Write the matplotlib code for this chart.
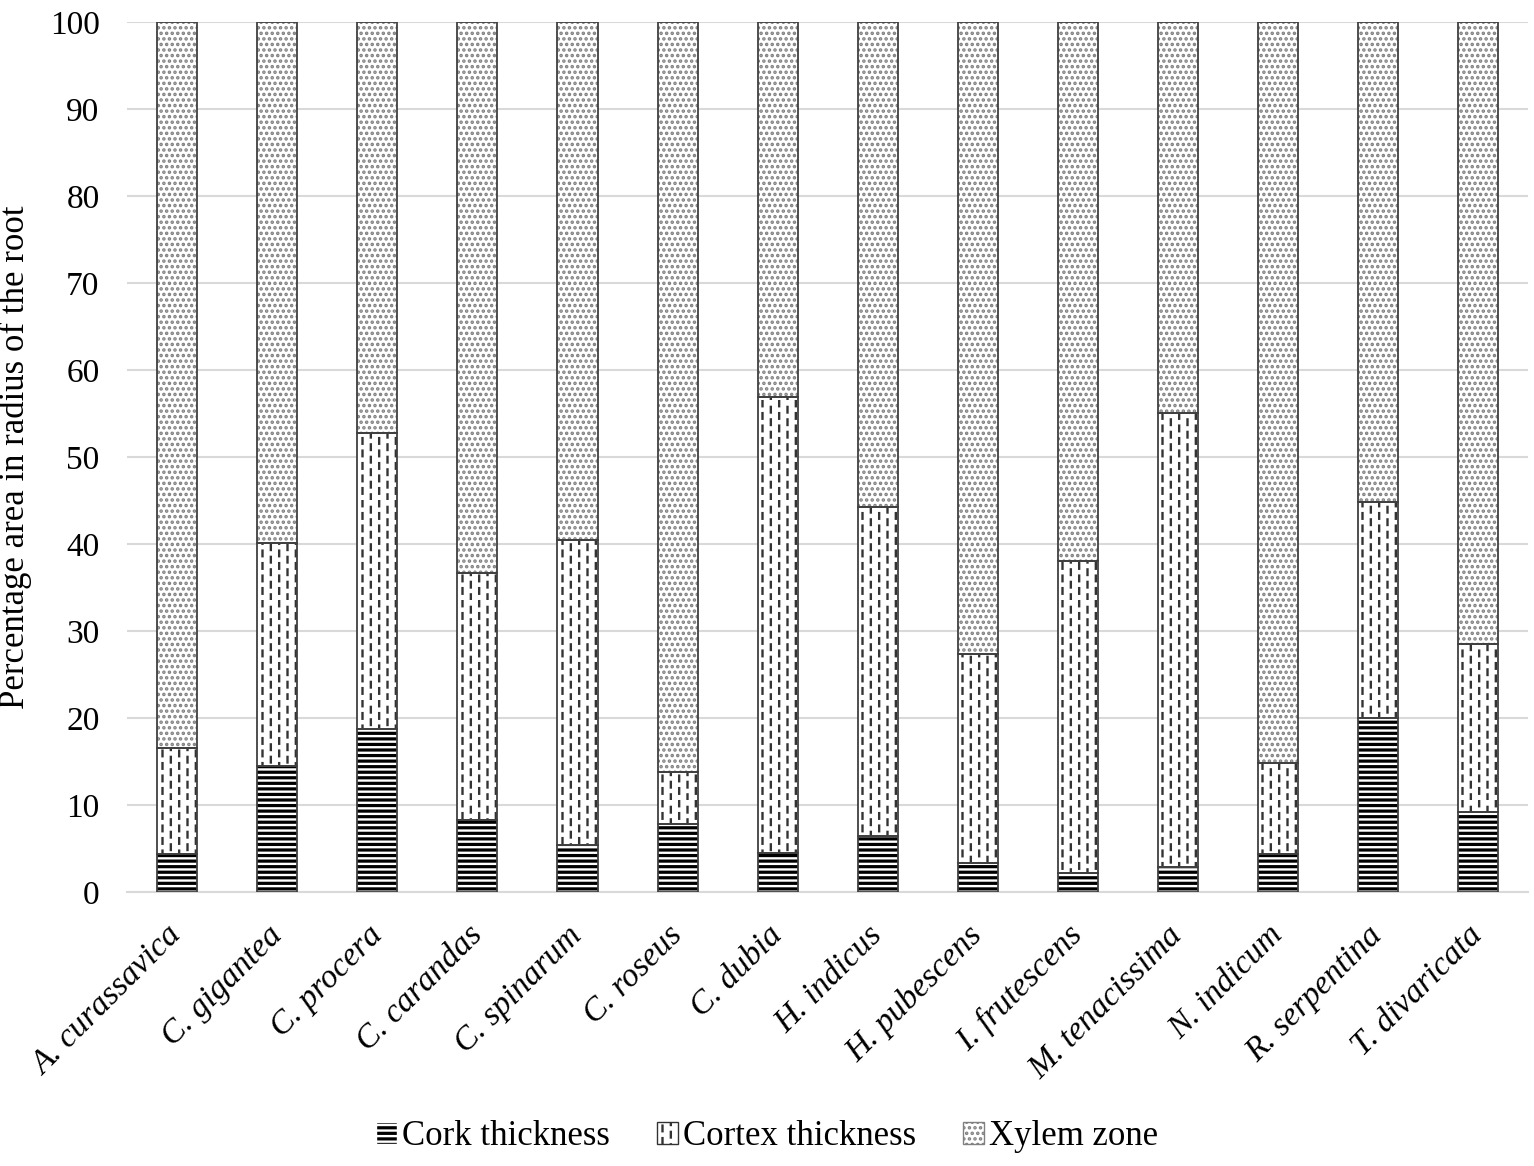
import warnings
import numpy as np
import matplotlib
matplotlib.use('Agg')
import matplotlib.pyplot as plt
import matplotlib.hatch as mhatch
from matplotlib.path import Path
from matplotlib.patches import Patch

warnings.filterwarnings('ignore')

species = ['A. curassavica', 'C. gigantea', 'C. procera', 'C. carandas',
           'C. spinarum', 'C. roseus', 'C. dubia', 'H. indicus',
           'H. pubescens', 'I. frutescens', 'M. tenacissima', 'N. indicum',
           'R. serpentina', 'T. divaricata']
cork = [4.4, 14.5, 18.7, 8.3, 5.4, 7.8, 4.5, 6.4, 3.3, 2.2, 2.9, 4.4, 20.0, 9.2]
cortex = [12.2, 25.6, 34.1, 28.4, 35.1, 6.0, 52.4, 37.9, 24.1, 35.8, 52.2, 10.4, 24.8, 19.3]
xylem = [83.4, 59.9, 47.2, 63.3, 59.5, 86.2, 43.1, 55.7, 72.6, 62.0, 44.9, 85.2, 55.2, 71.5]
series_names = ['Cork thickness', 'Cortex thickness', 'Xylem zone']


class VerticalDashes(mhatch.HatchPatternBase):
    """staggered short vertical dashes, used with the '!' hatch char"""
    def __init__(self, hatch, density):
        n = hatch.count('!')
        self.cols = 12 * n
        self.rows = 8 * n
        self.num_vertices = self.cols * self.rows * 2 if n else 0

    def set_vertices_and_codes(self, vertices, codes):
        k = 0
        dash = 0.45 / self.rows
        for c in range(self.cols):
            x = (c + 0.5) / self.cols
            off = 0.5 if c % 2 else 0.0
            for r in range(self.rows):
                y0 = (r + off) / self.rows
                vertices[k] = (x, y0)
                vertices[k + 1] = (x, y0 + dash)
                codes[k] = Path.MOVETO
                codes[k + 1] = Path.LINETO
                k += 2


mhatch._hatch_types.append(VerticalDashes)

plt.rcParams['font.family'] = ['Liberation Serif', 'DejaVu Serif']
plt.rcParams['hatch.linewidth'] = 1.7

fig = plt.figure(figsize=(15.34, 11.66), dpi=100)
ax = fig.add_axes([0.083, 0.235, 0.913, 0.746])

x = np.arange(len(species))
w = 0.4
cork = np.array(cork)
cortex = np.array(cortex)
xylem = np.array(xylem)

ax.bar(x, cork, w, color='black', edgecolor='white', hatch='---', linewidth=0, zorder=3)
ax.bar(x, cortex, w, bottom=cork, color='white', edgecolor='#333333', hatch='!', linewidth=0, zorder=3)
ax.bar(x, xylem, w, bottom=cork + cortex, color='white', edgecolor='#808080', hatch='...', linewidth=0, zorder=3)
# outlines
for bottom, h in [(0, cork), (cork, cortex), (cork + cortex, xylem)]:
    ax.bar(x, h, w, bottom=bottom, fill=False, edgecolor='#404040', linewidth=1.3, zorder=4)

ax.set_xlim(-0.5, len(species) - 0.5)
ax.set_ylim(0, 100)
ax.set_yticks(np.arange(0, 101, 10))
ax.yaxis.grid(True, color='#d9d9d9', linewidth=1.5, zorder=0)
ax.set_axisbelow(True)
for s in ['top', 'right', 'left']:
    ax.spines[s].set_visible(False)
ax.spines['bottom'].set_color('#d9d9d9')
ax.spines['bottom'].set_linewidth(1.5)
ax.tick_params(axis='y', length=0, labelsize=24, pad=20)
ax.tick_params(axis='x', length=0, labelsize=24, pad=28)
ax.set_xticks(x)
ax.set_xticklabels(species, rotation=45, ha='right', va='center',
                   rotation_mode='anchor', style='italic')
ax.set_ylabel('Percentage area in radius of the root', fontsize=25, labelpad=6)
ax.yaxis.set_label_coords(-0.068, 0.5)

handles = [Patch(facecolor='black', edgecolor='white', hatch='---'),
           Patch(facecolor='white', edgecolor='#333333', hatch='!'),
           Patch(facecolor='white', edgecolor='#808080', hatch='...')]
fig.legend(handles, series_names, loc='center', bbox_to_anchor=(0.5, 0.025),
           ncol=3, frameon=False, fontsize=25, handlelength=0.6, handleheight=0.6,
           handletextpad=0.15, columnspacing=1.35)

fig.savefig('out.png', dpi=100)
